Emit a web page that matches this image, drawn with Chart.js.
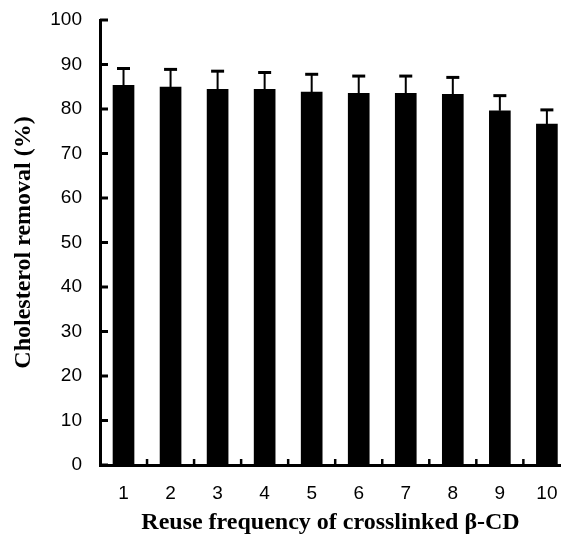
<!DOCTYPE html>
<html>
<head>
<meta charset="utf-8">
<script src="https://cdn.jsdelivr.net/npm/chart.js@4.4.1/dist/chart.umd.min.js"></script>
<style>
  html, body { margin: 0; padding: 0; background: #fff; }
  #wrap { width: 561px; height: 537px; }
</style>
</head>
<body>
<div id="wrap"><canvas id="myChart"></canvas></div>
<script>
const reuse = [1, 2, 3, 4, 5, 6, 7, 8, 9, 10];
const removal = [85.3, 84.9, 84.4, 84.4, 83.8, 83.5, 83.5, 83.3, 79.6, 76.6];
const errorUp = [3.8, 4.0, 4.1, 3.8, 4.0, 3.9, 3.9, 3.8, 3.4, 3.2];
const yTicks = [0, 10, 20, 30, 40, 50, 60, 70, 80, 90, 100];
const xBounds = [1.5, 2.5, 3.5, 4.5, 5.5, 6.5, 7.5, 8.5, 9.5];

const ctx = document.getElementById('myChart');

// error bars and inward tick marks
const extras = {
  id: 'extras',
  afterDatasetsDraw(chart) {
    const { ctx, chartArea, scales: { x, y } } = chart;
    ctx.save();
    ctx.strokeStyle = '#000';
    reuse.forEach((r, i) => {
      const px = x.getPixelForValue(r);
      const top = y.getPixelForValue(removal[i]);
      const cap = y.getPixelForValue(removal[i] + errorUp[i]);
      ctx.lineWidth = 2;
      ctx.beginPath(); ctx.moveTo(px, top); ctx.lineTo(px, cap); ctx.stroke();
      ctx.lineWidth = 3;
      ctx.beginPath(); ctx.moveTo(px - 6.5, cap); ctx.lineTo(px + 6.5, cap); ctx.stroke();
    });
    const left = chartArea.left;
    const base = chartArea.bottom;
    ctx.lineWidth = 3;
    yTicks.forEach(v => {
      const py = y.getPixelForValue(v);
      ctx.beginPath(); ctx.moveTo(left, py); ctx.lineTo(left + 8, py); ctx.stroke();
    });
    ctx.lineWidth = 2.5;
    xBounds.forEach(v => {
      const px = x.getPixelForValue(v);
      ctx.beginPath(); ctx.moveTo(px, base); ctx.lineTo(px, base - 6); ctx.stroke();
    });
    ctx.restore();
  }
};

const tickFont = { family: "'Liberation Sans', Arial, sans-serif", size: 19 };
const titleFont = { family: "'Liberation Serif', 'Times New Roman', serif", size: 24, weight: 'bold' };

const chart = new Chart(ctx, {
  type: 'bar',
  data: {
    datasets: [{
      data: reuse.map((r, i) => ({ x: r, y: removal[i] })),
      backgroundColor: '#000',
      borderWidth: 0,
      barThickness: 21,
    }],
  },
  options: {
    responsive: true,
    maintainAspectRatio: false,
    animation: false,
    layout: { padding: { top: 20, right: 0, bottom: 0, left: 0 } },
    plugins: { legend: { display: false }, tooltip: { enabled: false } },
    scales: {
      x: {
        type: 'linear',
        offset: false,
        bounds: 'data',
        min: 0.5,
        max: 10.3,
        afterBuildTicks: s => { s.ticks = reuse.map(v => ({ value: v })); },
        afterFit: s => { s.height = 72; s.paddingLeft = 0; s.paddingRight = 0; },
        grid: { display: false, drawTicks: false },
        border: { display: true, color: '#000', width: 3 },
        ticks: { font: tickFont, color: '#000', padding: 17, maxRotation: 0, autoSkip: false },
        title: {
          display: true,
          text: 'Reuse frequency of crosslinked β-CD',
          font: titleFont,
          color: '#000',
          padding: { top: 1, bottom: 0 },
        },
      },
      y: {
        min: 0,
        max: 100,
        afterBuildTicks: s => { s.ticks = yTicks.map(v => ({ value: v })); },
        afterFit: s => { s.width = 100; s.paddingTop = 0; s.paddingBottom = 0; },
        grid: { display: false, drawTicks: false },
        border: { display: true, color: '#000', width: 3 },
        ticks: { font: tickFont, color: '#000', padding: 18 },
        title: {
          display: true,
          text: 'Cholesterol removal (%)',
          font: titleFont,
          color: '#000',
          padding: { top: 9, bottom: 0 },
        },
      },
    },
  },
  plugins: [extras],
});
</script>
</body>
</html>
